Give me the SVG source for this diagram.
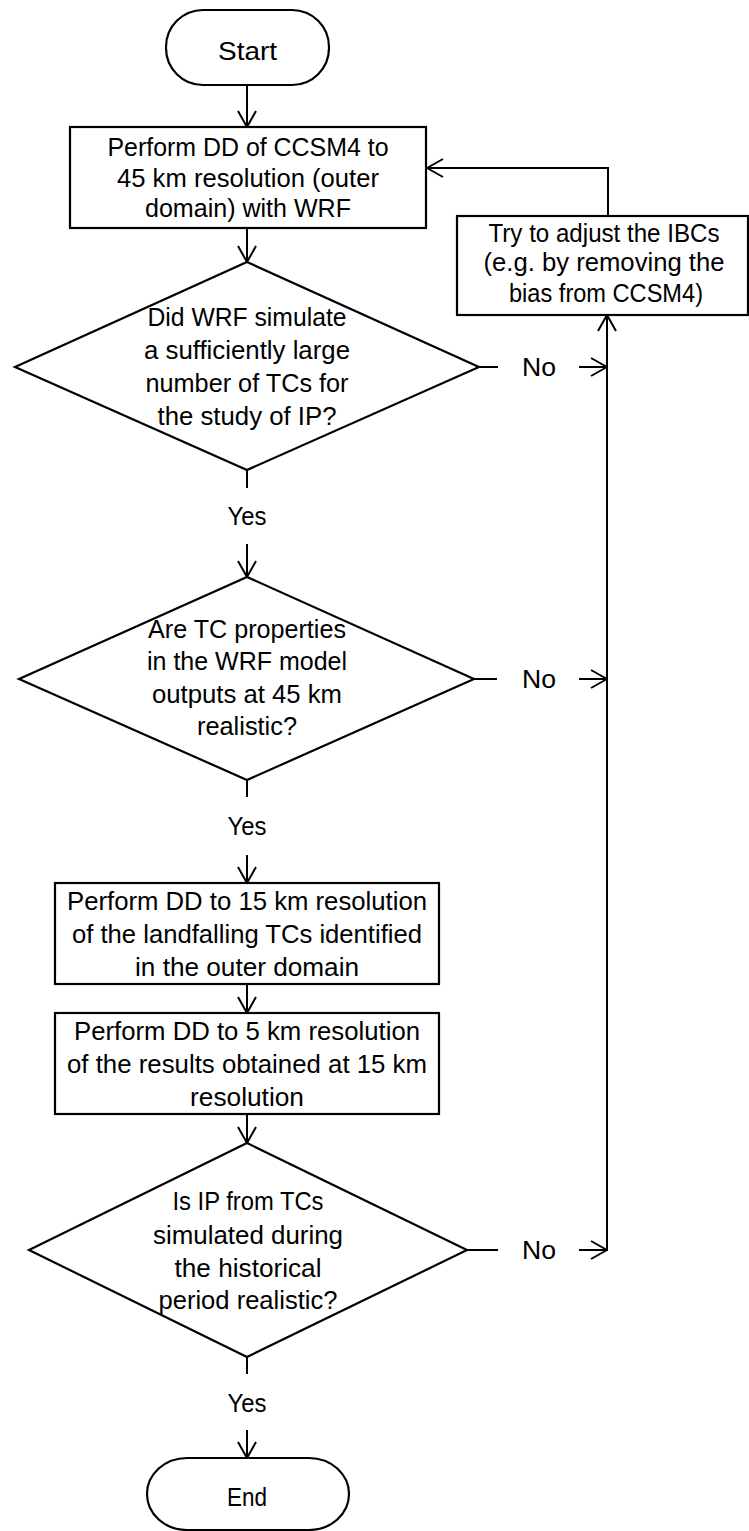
<svg xmlns="http://www.w3.org/2000/svg" width="749" height="1531" viewBox="0 0 749 1531">
<style>
.shape{fill:#fff;stroke:#000;stroke-width:2.2}
.conn{fill:none;stroke:#000;stroke-width:2}
text{font-family:"Liberation Sans",Arial,sans-serif;font-size:25px;fill:#000;text-anchor:middle}
</style>
<defs>
<marker id="ah" viewBox="0 0 18 20" refX="17" refY="10" markerWidth="18" markerHeight="20" markerUnits="userSpaceOnUse" orient="auto">
<path d="M1,1 L17,10 L1,19" fill="none" stroke="#000" stroke-width="2"/>
</marker>
</defs>
<rect width="749" height="1531" fill="#fff"/>

<g id="connectors">
<line class="conn" x1="247" y1="85" x2="247" y2="127" marker-end="url(#ah)"/>
<line class="conn" x1="247" y1="228" x2="247" y2="262" marker-end="url(#ah)"/>
<line class="conn" x1="247" y1="470" x2="247" y2="488"/>
<line class="conn" x1="247" y1="544" x2="247" y2="577" marker-end="url(#ah)"/>
<line class="conn" x1="247" y1="780" x2="247" y2="797"/>
<line class="conn" x1="247" y1="855" x2="247" y2="883" marker-end="url(#ah)"/>
<line class="conn" x1="247" y1="984" x2="247" y2="1013" marker-end="url(#ah)"/>
<line class="conn" x1="247" y1="1114" x2="247" y2="1143" marker-end="url(#ah)"/>
<line class="conn" x1="247" y1="1357" x2="247" y2="1374"/>
<line class="conn" x1="247" y1="1430" x2="247" y2="1458" marker-end="url(#ah)"/>
<line class="conn" x1="479" y1="367" x2="498" y2="367"/>
<line class="conn" x1="579" y1="367" x2="607" y2="367" marker-end="url(#ah)"/>
<line class="conn" x1="474" y1="679" x2="497" y2="679"/>
<line class="conn" x1="579" y1="679" x2="607" y2="679" marker-end="url(#ah)"/>
<line class="conn" x1="467" y1="1250" x2="498" y2="1250"/>
<line class="conn" x1="579" y1="1250" x2="607" y2="1250" marker-end="url(#ah)"/>
<line class="conn" x1="607" y1="1251" x2="607" y2="315" marker-end="url(#ah)"/>
<polyline class="conn" points="608,216 608,168 427,168" marker-end="url(#ah)"/>
<text x="247" y="525" textLength="39" lengthAdjust="spacingAndGlyphs">Yes</text>
<text x="247" y="835" textLength="39" lengthAdjust="spacingAndGlyphs">Yes</text>
<text x="247" y="1412" textLength="39" lengthAdjust="spacingAndGlyphs">Yes</text>
<text x="539" y="376" textLength="34" lengthAdjust="spacingAndGlyphs">No</text>
<text x="539" y="688" textLength="34" lengthAdjust="spacingAndGlyphs">No</text>
<text x="539" y="1259" textLength="34" lengthAdjust="spacingAndGlyphs">No</text>
</g>

<g id="start">
<rect class="shape" x="166" y="10" width="163" height="75" rx="37" ry="37"/>
<text x="247.5" y="60" textLength="59" lengthAdjust="spacingAndGlyphs">Start</text>
</g>

<g id="dd45">
<rect class="shape" x="70" y="127" width="356" height="101"/>
<text x="248" y="156" textLength="281" lengthAdjust="spacingAndGlyphs">Perform DD of CCSM4 to</text>
<text x="248" y="187" textLength="262" lengthAdjust="spacingAndGlyphs">45 km resolution (outer</text>
<text x="248" y="217" textLength="206" lengthAdjust="spacingAndGlyphs">domain) with WRF</text>
</g>

<g id="adjust">
<rect class="shape" x="457" y="216" width="291" height="99"/>
<text x="604" y="242" textLength="231" lengthAdjust="spacingAndGlyphs">Try to adjust the IBCs</text>
<text x="604" y="271" textLength="241" lengthAdjust="spacingAndGlyphs">(e.g. by removing the</text>
<text x="606" y="302" textLength="194" lengthAdjust="spacingAndGlyphs">bias from CCSM4)</text>
</g>

<g id="q1">
<polygon class="shape" points="247,262 479,367 247,470 15,367"/>
<text x="247" y="326" textLength="199" lengthAdjust="spacingAndGlyphs">Did WRF simulate</text>
<text x="247" y="359" textLength="206" lengthAdjust="spacingAndGlyphs">a sufficiently large</text>
<text x="247" y="392" textLength="203" lengthAdjust="spacingAndGlyphs">number of TCs for</text>
<text x="247" y="425" textLength="179" lengthAdjust="spacingAndGlyphs">the study of IP?</text>
</g>

<g id="q2">
<polygon class="shape" points="247,577 474,679 247,780 19,679"/>
<text x="247" y="638" textLength="198" lengthAdjust="spacingAndGlyphs">Are TC properties</text>
<text x="247" y="670" textLength="200" lengthAdjust="spacingAndGlyphs">in the WRF model</text>
<text x="247" y="703" textLength="190" lengthAdjust="spacingAndGlyphs">outputs at 45 km</text>
<text x="247" y="735" textLength="100" lengthAdjust="spacingAndGlyphs">realistic?</text>
</g>

<g id="dd15">
<rect class="shape" x="55" y="883" width="384" height="101"/>
<text x="247" y="910" textLength="360" lengthAdjust="spacingAndGlyphs">Perform DD to 15 km resolution</text>
<text x="247" y="943" textLength="350" lengthAdjust="spacingAndGlyphs">of the landfalling TCs identified</text>
<text x="247" y="976" textLength="224" lengthAdjust="spacingAndGlyphs">in the outer domain</text>
</g>

<g id="dd5">
<rect class="shape" x="55" y="1013" width="384" height="101"/>
<text x="247" y="1040" textLength="346" lengthAdjust="spacingAndGlyphs">Perform DD to 5 km resolution</text>
<text x="247" y="1073" textLength="360" lengthAdjust="spacingAndGlyphs">of the results obtained at 15 km</text>
<text x="247" y="1106" textLength="114" lengthAdjust="spacingAndGlyphs">resolution</text>
</g>

<g id="q3">
<polygon class="shape" points="247,1143 467,1250 247,1357 29,1250"/>
<text x="248" y="1210" textLength="151" lengthAdjust="spacingAndGlyphs">Is IP from TCs</text>
<text x="248" y="1244" textLength="190" lengthAdjust="spacingAndGlyphs">simulated during</text>
<text x="248" y="1277" textLength="147" lengthAdjust="spacingAndGlyphs">the historical</text>
<text x="248" y="1309" textLength="179" lengthAdjust="spacingAndGlyphs">period realistic?</text>
</g>

<g id="end">
<rect class="shape" x="147" y="1458" width="202" height="72" rx="40" ry="36"/>
<text x="247" y="1506" textLength="40" lengthAdjust="spacingAndGlyphs">End</text>
</g>
</svg>
